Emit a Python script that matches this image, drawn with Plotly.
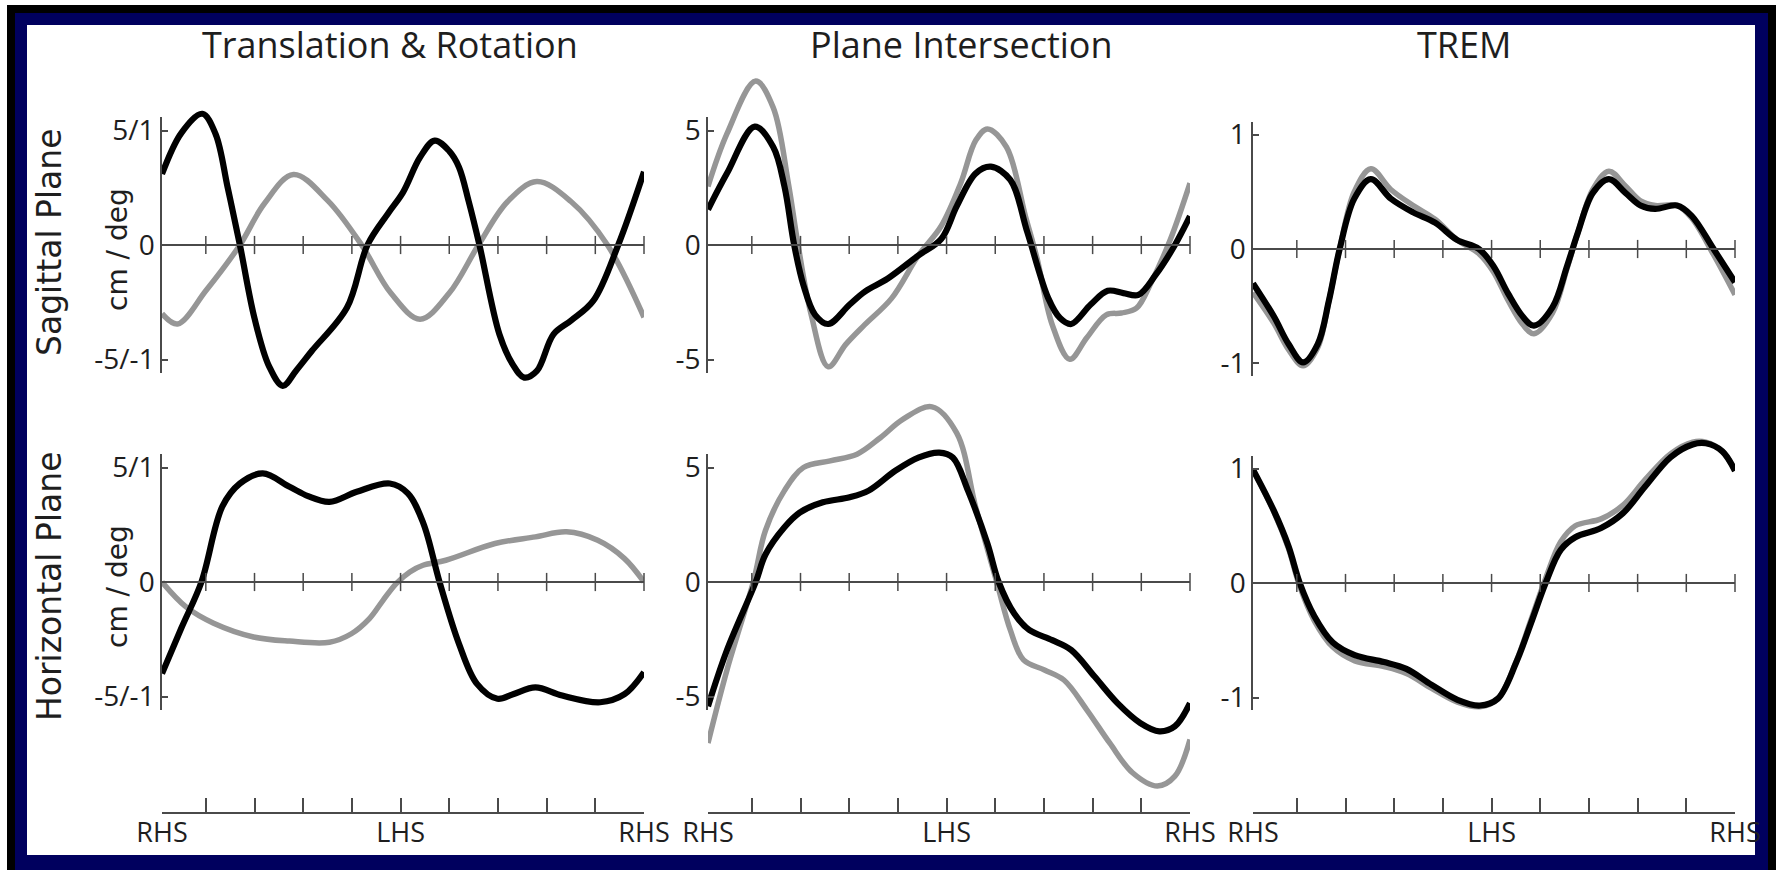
import plotly.graph_objects as go

# ---------------- data ----------------
col_titles = ["Translation & Rotation", "Plane Intersection", "TREM"]
row_titles = ["Sagittal Plane", "Horizontal Plane"]
y_unit_label = "cm / deg"

x_tick_vals = [1, 10, 20, 30, 40, 50, 60, 70, 80, 90, 100]
x_tick_text = ["RHS", "", "", "", "", "LHS", "", "", "", "", "RHS"]
zero_tick_vals = [10, 20, 30, 40, 50, 60, 70, 80, 90, 100]

y_tick_vals_cm = [-5, 0, 5]
y_tick_text_tr = ["-5/-1", "0", "5/1"]
y_tick_text_pi = ["-5", "0", "5"]
y_tick_vals_trem = [-1, 0, 1]
y_tick_text_trem = ["-1", "0", "1"]

# Translation & Rotation - sagittal
tr_sag_black_x = [1, 5, 9.3, 12, 14.5, 17, 20, 23, 25.8, 28.5, 31.8, 39, 43.2, 47.5, 50.5, 54, 57, 60, 62, 64, 66.2,
                  70.3, 73, 75.4, 78, 81.4, 85, 89.6, 94.7, 100]
tr_sag_black_y = [3.1, 4.9, 5.73, 4.85, 2.5, 0, -3.2, -5.3, -6.15, -5.5, -4.62, -2.73, 0, 1.4, 2.3, 3.83, 4.56, 4.1,
                  3.4, 1.9, 0, -3.9, -5.2, -5.79, -5.5, -3.9, -3.3, -2.43, 0, 3.2]
tr_sag_gray_x = [1, 4.2, 10, 17, 22, 28, 35, 42, 48, 54, 60, 66, 72, 78, 85, 92.5, 100]
tr_sag_gray_y = [-3.0, -3.45, -2.0, 0, 1.8, 3.08, 1.95, 0, -2.1, -3.24, -2.1, 0, 1.9, 2.77, 1.9, 0, -3.16]

# Translation & Rotation - horizontal
tr_hor_black_x = [1, 5, 9.1, 13.4, 17, 21.7, 27.2, 31, 35.4, 41, 47.8, 51.5, 54.7, 58, 62, 65.7, 69.9, 73.1, 77.7,
                  83.2, 91, 96, 100]
tr_hor_black_y = [-4.0, -2.0, 0, 3.3, 4.3, 4.74, 4.16, 3.75, 3.5, 3.94, 4.3, 3.87, 2.55, 0, -2.7, -4.45, -5.1, -4.9,
                  -4.6, -4.96, -5.25, -4.9, -3.94]
tr_hor_gray_x = [1, 6, 11.6, 19.8, 27.2, 35.4, 39.9, 43.6, 46.4, 49.1, 51.9, 54.6, 59.3, 69.4, 77.7, 84.1, 90.5,
                 96, 100]
tr_hor_gray_y = [0, -1.1, -1.8, -2.4, -2.58, -2.63, -2.26, -1.6, -0.8, -0.07, 0.44, 0.73, 0.95, 1.68, 1.97, 2.19,
                 1.82, 1.02, 0]

# Plane Intersection - sagittal
pi_sag_black_x = [1, 4.9, 10.6, 14.4, 16.7, 18.7, 20.6, 23, 25.7, 30.1, 33.2, 37.9, 44.2, 48.9, 52.1, 56, 59.1,
                  63.1, 66.6, 70.9, 73.3, 75.6, 79.6, 83.1, 86.3, 89.4, 92.9, 96.9, 100]
pi_sag_black_y = [1.55, 3.13, 5.17, 4.28, 2.56, 0, -1.75, -3.05, -3.45, -2.6, -2.04, -1.47, -0.46, 0.26, 1.7, 3.13,
                  3.42, 2.84, 0.55, -2.33, -3.19, -3.45, -2.6, -2.0, -2.1, -2.18, -1.32, 0, 1.26]
pi_sag_gray_x = [1, 4.9, 10.8, 14.4, 17.5, 19.5, 22.2, 25.7, 29.3, 33.2, 38.7, 44.2, 48.9, 52.9, 56, 58.4, 62.3,
                 66.2, 68.6, 71.7, 75.3, 78.8, 82.8, 85.9, 89, 92.1, 96, 100]
pi_sag_gray_y = [2.56, 4.86, 7.16, 6.0, 2.7, 0, -3.05, -5.32, -4.34, -3.48, -2.33, -0.46, 0.83, 2.7, 4.57, 5.07,
                 4.28, 1.26, -0.6, -3.48, -4.99, -4.05, -3.05, -2.97, -2.76, -1.6, 0.26, 2.7]

# Plane Intersection - horizontal
pi_hor_black_x = [1, 4.9, 10.8, 12.8, 16.7, 19.9, 24.6, 30.1, 34, 39.5, 44.2, 48.5, 51.3, 54.4, 58.4, 60.7, 63.9,
                  67, 71.7, 75.6, 80.4, 85.1, 89.8, 93.7, 96.9, 100]
pi_hor_black_y = [-5.43, -2.97, 0, 1.2, 2.39, 3.04, 3.48, 3.7, 3.99, 4.86, 5.43, 5.65, 5.43, 3.99, 1.67, 0, -1.38,
                  -2.1, -2.54, -2.97, -4.13, -5.29, -6.16, -6.52, -6.3, -5.29]
pi_hor_gray_x = [1, 4.9, 10.3, 12.8, 16.7, 20.6, 26.1, 31.6, 36.4, 41, 47, 52.1, 56, 60.3, 63.1, 65.8, 70.1, 74.1,
                 78.8, 83.5, 88.2, 93.3, 96.9, 100]
pi_hor_gray_y = [-7.03, -3.84, 0, 2.25, 3.99, 5.0, 5.29, 5.58, 6.3, 7.1, 7.65, 6.5, 3.26, 0, -2.1, -3.4, -3.84,
                 -4.28, -5.58, -7.03, -8.33, -8.91, -8.48, -6.88]

# TREM - sagittal
trem_sag_black_x = [1, 5.3, 8.3, 11.3, 14.3, 16.6, 18.8, 21.8, 25.2, 29.3, 33.9, 38.4, 42.9, 47.4, 50.4, 53.4, 56.4,
                    58.7, 62.5, 65.5, 67.7, 70.8, 74.1, 77.5, 80.6, 83.6, 88.1, 91.1, 95.6, 100]
trem_sag_black_y = [-0.3, -0.59, -0.83, -0.99, -0.83, -0.45, 0, 0.44, 0.61, 0.44, 0.32, 0.23, 0.08, 0, -0.15, -0.39,
                    -0.59, -0.67, -0.51, -0.15, 0.14, 0.49, 0.61, 0.49, 0.38, 0.35, 0.38, 0.29, 0, -0.29]
trem_sag_gray_x = [1, 5.3, 8.3, 11.3, 14.3, 16.6, 18.8, 21.8, 25.2, 29.3, 33.9, 38.4, 42.9, 47.4, 50.4, 53.4, 56.4,
                   58.7, 62.5, 65.5, 67.7, 70.8, 74.1, 77.5, 80.6, 83.6, 88.1, 91.1, 95.6, 100]
trem_sag_gray_y = [-0.38, -0.65, -0.88, -1.02, -0.86, -0.45, 0, 0.5, 0.70, 0.52, 0.38, 0.26, 0.08, -0.04, -0.2,
                   -0.45, -0.66, -0.74, -0.56, -0.17, 0.14, 0.52, 0.68, 0.55, 0.42, 0.38, 0.38, 0.27, -0.05, -0.4]

# TREM - horizontal
trem_hor_black_x = [1, 5.3, 8.3, 10.6, 13.6, 17.4, 21.9, 27.9, 32.5, 37.7, 43, 47.6, 51.3, 55.1, 58.1, 61.1, 64.2,
                    67.2, 72.5, 77, 81.5, 86.8, 91.3, 94, 97.4, 100]
trem_hor_black_y = [0.99, 0.63, 0.32, 0, -0.29, -0.52, -0.63, -0.69, -0.75, -0.89, -1.02, -1.07, -1.01, -0.69,
                    -0.35, 0, 0.29, 0.40, 0.48, 0.61, 0.84, 1.10, 1.21, 1.22, 1.15, 0.98]
trem_hor_gray_x = [1, 5.3, 8.3, 10.6, 13.6, 17.4, 21.9, 27.9, 32.5, 37.7, 43, 47.6, 51.3, 55.1, 58.1, 61.1, 64.2,
                   67.2, 72.5, 77, 81.5, 86.8, 91.3, 94, 97.4, 100]
trem_hor_gray_y = [0.99, 0.62, 0.30, -0.03, -0.33, -0.56, -0.68, -0.73, -0.79, -0.92, -1.04, -1.08, -1.01, -0.68,
                   -0.32, 0.04, 0.36, 0.50, 0.56, 0.68, 0.90, 1.13, 1.23, 1.23, 1.15, 0.98]

# ---------------- styling / geometry ----------------
W, H = 1776, 870
NAVY = "#00005e"
BLACK = "#000000"
GRAY = "#969696"
AXIS = "#4a4a4a"
TXT = "#1e1e1e"
Y_TICK_FONT = dict(family="Open Sans", size=28, color=TXT)
X_TICK_FONT = dict(family="Open Sans", size=27, color=TXT)

COL_PX = [(162, 644), (708, 1190), (1253, 1735)]
ROW_DATA_PX = [(55, 420), (375, 812)]
ZERO_PX = [[245, 245, 249], [582, 582, 583]]
SCALE = [22.9, 22.9, 114.5]          # pixels per data unit, per column
VIS_R = [5.6, 5.6, 1.11]             # half-extent of the drawn y-axis line

panels = [
    (0, 0, tr_sag_gray_x, tr_sag_gray_y, tr_sag_black_x, tr_sag_black_y, y_tick_vals_cm, y_tick_text_tr),
    (0, 1, pi_sag_gray_x, pi_sag_gray_y, pi_sag_black_x, pi_sag_black_y, y_tick_vals_cm, y_tick_text_pi),
    (0, 2, trem_sag_gray_x, trem_sag_gray_y, trem_sag_black_x, trem_sag_black_y, y_tick_vals_trem, y_tick_text_trem),
    (1, 0, tr_hor_gray_x, tr_hor_gray_y, tr_hor_black_x, tr_hor_black_y, y_tick_vals_cm, y_tick_text_tr),
    (1, 1, pi_hor_gray_x, pi_hor_gray_y, pi_hor_black_x, pi_hor_black_y, y_tick_vals_cm, y_tick_text_pi),
    (1, 2, trem_hor_gray_x, trem_hor_gray_y, trem_hor_black_x, trem_hor_black_y, y_tick_vals_trem, y_tick_text_trem),
]


def ydom(top_px, bot_px):
    return [1 - bot_px / H, 1 - top_px / H]


fig = go.Figure()
layout = dict(width=W, height=H, margin=dict(l=0, r=0, t=0, b=0, pad=0, autoexpand=False), paper_bgcolor="white",
              plot_bgcolor="rgba(0,0,0,0)", showlegend=False)

for i, (r, c, gx, gy, bx, by, ytv, ytt) in enumerate(panels):
    n = i + 1
    nv = i + 7
    xs = "" if n == 1 else str(n)
    s = SCALE[c]
    z = ZERO_PX[r][c]
    top, bot = ROW_DATA_PX[r]
    # data axes
    layout["xaxis" + xs] = dict(
        domain=[COL_PX[c][0] / W, COL_PX[c][1] / W], range=[1, 100], anchor="y" + xs,
        visible=(r == 1), automargin=False, showgrid=False, zeroline=False, showline=True, linecolor=AXIS,
        linewidth=1.5, ticks="inside", ticklen=14, tickwidth=1.5, tickcolor=AXIS, tickvals=x_tick_vals,
        ticktext=x_tick_text, tickfont=X_TICK_FONT, ticklabelstandoff=-4, fixedrange=True)
    layout["yaxis" + xs] = dict(
        domain=ydom(top, bot), range=[(z - bot) / s, (z - top) / s], anchor="x" + xs,
        visible=False, automargin=False, fixedrange=True)
    # drawn y axis (shorter than the data area)
    R = VIS_R[c]
    layout["yaxis" + str(nv)] = dict(
        domain=ydom(z - R * s, z + R * s), range=[-R, R], anchor="x" + xs, automargin=False,
        showgrid=False, showline=True, linecolor=AXIS, linewidth=1.5,
        zeroline=True, zerolinecolor=AXIS, zerolinewidth=1.5,
        ticks="inside", ticklen=6, tickwidth=1.5, tickcolor=AXIS,
        tickvals=ytv, ticktext=ytt, tickfont=Y_TICK_FONT, ticklabelstandoff=0, fixedrange=True)

    fig.add_trace(go.Scatter(x=zero_tick_vals, y=[0] * len(zero_tick_vals), xaxis="x" + xs, yaxis="y" + str(nv),
                             mode="markers", cliponaxis=False, hoverinfo="skip",
                             marker=dict(symbol="line-ns", size=13, color=AXIS, line=dict(width=1.5, color=AXIS))))
    fig.add_trace(go.Scatter(x=gx, y=gy, xaxis="x" + xs, yaxis="y" + xs, mode="lines", hoverinfo="skip",
                             line=dict(color=GRAY, width=5.5, shape="spline", smoothing=1.0)))
    fig.add_trace(go.Scatter(x=bx, y=by, xaxis="x" + xs, yaxis="y" + xs, mode="lines", hoverinfo="skip",
                             line=dict(color=BLACK, width=6.2, shape="spline", smoothing=1.0)))

annotations = []
TITLE_X = [390, 961, 1464]
for c, t in enumerate(col_titles):
    annotations.append(dict(text=t, x=TITLE_X[c] / W, y=1 - 45 / H, xref="paper", yref="paper",
                            showarrow=False, xanchor="center", yanchor="middle",
                            font=dict(family="Open Sans", size=36, color=TXT)))
ROW_LABEL_Y = [242, 586]
UNIT_Y = [249, 586]
for r, t in enumerate(row_titles):
    annotations.append(dict(text=t, x=49 / W, y=1 - ROW_LABEL_Y[r] / H, xref="paper", yref="paper",
                            showarrow=False, xanchor="center", yanchor="middle", textangle=-90,
                            font=dict(family="DejaVu Sans", size=33, color=TXT)))
    annotations.append(dict(text=y_unit_label, x=117 / W, y=1 - UNIT_Y[r] / H, xref="paper", yref="paper",
                            showarrow=False, xanchor="center", yanchor="middle", textangle=-90,
                            font=dict(family="DejaVu Sans", size=28, color=TXT)))
layout["annotations"] = annotations

# picture frame: thin white outer edge, black band, navy band, white canvas
layout["shapes"] = [
    dict(type="rect", xref="paper", yref="paper", x0=7 / W, x1=1, y0=0, y1=1 - 5 / H, fillcolor=BLACK,
         line=dict(width=0), layer="below"),
    dict(type="rect", xref="paper", yref="paper", x0=15 / W, x1=1768 / W, y0=0, y1=1 - 13 / H, fillcolor=NAVY,
         line=dict(width=0), layer="below"),
    dict(type="rect", xref="paper", yref="paper", x0=27 / W, x1=1755 / W, y0=1 - 855 / H, y1=1 - 25 / H,
         fillcolor="white", line=dict(width=0), layer="below"),
]

fig.update_layout(**layout)
fig.write_html("out.html", config={"displayModeBar": False},
               post_script="document.body.style.margin='0';document.body.style.overflow='hidden';")
